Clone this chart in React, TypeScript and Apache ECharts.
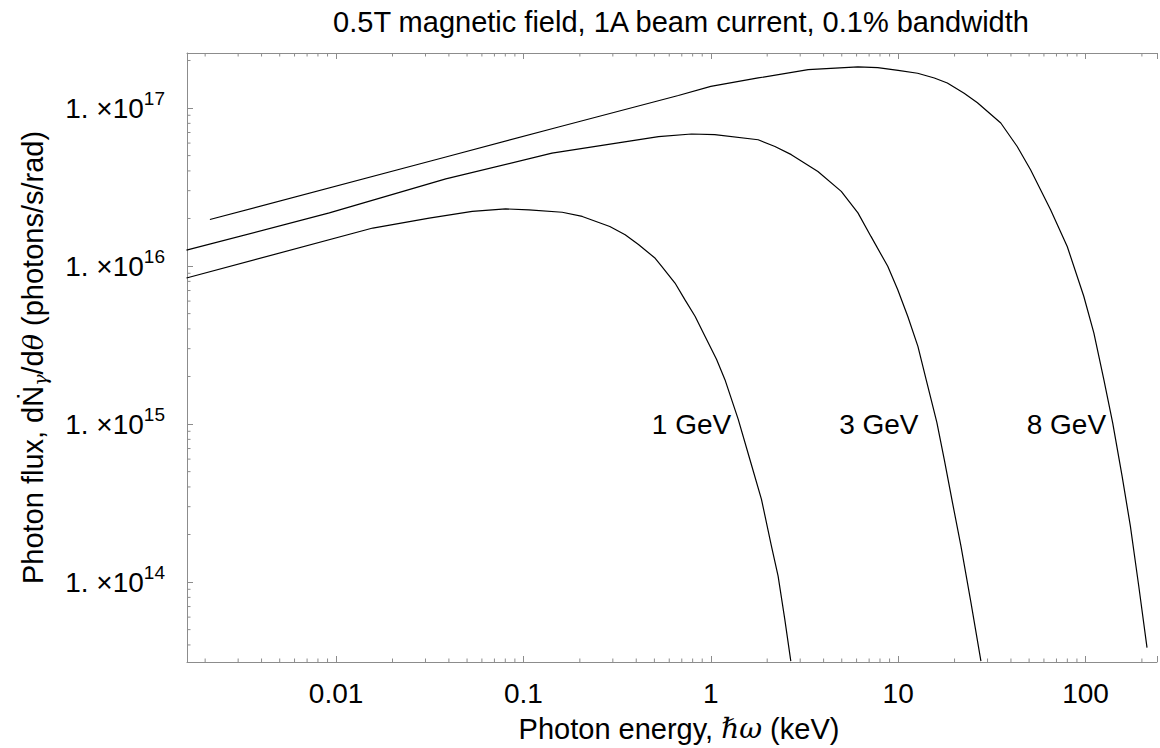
import React, { useEffect, useRef } from "react";
import * as echarts from "echarts";

const FONT = '"Liberation Sans", Arial, sans-serif';
const MATH_FONT = '"DejaVu Serif", serif';

const chartTitle = "0.5T magnetic field, 1A beam current, 0.1% bandwidth";
const seriesNames = ["1 GeV", "3 GeV", "8 GeV"];

// Photon energy (keV) and photon flux (photons/s/rad)
const energy1GeV = [0.00159, 0.0157, 0.0314, 0.0533, 0.0803, 0.107, 0.161, 0.206, 0.289, 0.349, 0.411, 0.505, 0.547, 0.644, 0.727, 0.824, 0.931, 1.074, 1.19, 1.401, 1.617, 1.864, 2.107, 2.287, 2.483, 2.673];
const flux1GeV = [8.4e15, 1.74e16, 2.01e16, 2.22e16, 2.3e16, 2.27e16, 2.19e16, 2.06e16, 1.78e16, 1.58e16, 1.37e16, 1.12e16, 9.96e15, 7.81e15, 6.13e15, 4.81e15, 3.6e15, 2.56e15, 1.91e15, 1.07e15, 5.97e14, 3.34e14, 1.69e14, 1.09e14, 5.81e13, 3.16e13];

const energy3GeV = [0.00159, 0.0092, 0.0385, 0.142, 0.526, 0.789, 1.05, 1.79, 2.2, 2.69, 3.73, 4.97, 6.1, 7.16, 8.8, 9.94, 11.25, 12.75, 14.11, 16.1, 17.62, 19.5, 21.64, 24.47, 27.66];
const flux3GeV = [1.26e16, 2.17e16, 3.56e16, 5.19e16, 6.6e16, 6.85e16, 6.78e16, 6.3e16, 5.71e16, 5.07e16, 3.97e16, 2.97e16, 2.17e16, 1.54e16, 9.96e15, 7.1e15, 4.81e15, 3.1e15, 1.91e15, 1.02e15, 5.97e14, 3.18e14, 1.69e14, 7.41e13, 3.16e13];

const energy8GeV = [0.00212, 0.0385, 0.154, 0.671, 1, 1.79, 3.31, 6.1, 7.78, 10, 12.7, 15.6, 18.3, 22.5, 26.5, 35.3, 43.2, 50.9, 65.1, 79.9, 97.9, 110.8, 125.3, 139.6, 156.8, 173.6, 192.4, 213];
const flux8GeV = [1.97e16, 4.9e16, 7.59e16, 1.2e17, 1.37e17, 1.55e17, 1.75e17, 1.82e17, 1.8e17, 1.73e17, 1.66e17, 1.55e17, 1.44e17, 1.24e17, 1.08e17, 8.04e16, 5.71e16, 4.07e16, 2.27e16, 1.33e16, 6.44e15, 3.78e15, 1.91e15, 1.02e15, 4.68e14, 2.26e14, 9.44e13, 3.85e13];

// Curve label anchors (right end of each label), in data units
const labelEnergy = [1.285, 12.85, 128.8];
const labelFlux = [9.9e14, 9.9e14, 9.9e14];

// Axis ranges and tick labels
const xMin = 0.0016;
const xMax = 240.8;
const yMin = 3.12e13;
const yMax = 2.23e17;
const xTickValues = [0.01, 0.1, 1, 10, 100];
const xTickLabels = ["0.01", "0.1", "1", "10", "100"];
const yTickExponents = [14, 15, 16, 17];

export default function App() {
  const ref = useRef<HTMLDivElement>(null);

  useEffect(() => {
    const chart = echarts.init(ref.current!, null, { renderer: "svg" });
    const axisGray = "#8c8c8c";

    const minorData: number[][] = [];
    for (let e = -4; e <= 3; e++) {
      for (let m = 2; m <= 9; m++) {
        const v = m * Math.pow(10, e);
        if (v > xMin && v < xMax) {
          minorData.push([v, yMin, 0]);
          minorData.push([v, yMax, 1]);
        }
      }
    }
    for (let e = 12; e <= 18; e++) {
      for (let m = 2; m <= 9; m++) {
        const v = m * Math.pow(10, e);
        if (v > yMin && v < yMax) minorData.push([xMin, v, 2]);
      }
    }

    const xs = [energy1GeV, energy3GeV, energy8GeV];
    const ys = [flux1GeV, flux3GeV, flux8GeV];

    const lineSeries = seriesNames.map((name, i) => ({
      name,
      type: "line",
      showSymbol: false,
      symbol: "none",
      smooth: false,
      silent: true,
      lineStyle: { color: "#000", width: 1.2 },
      data: xs[i].map((x, j) => [x, ys[i][j]]),
      markPoint: {
        symbol: "circle",
        symbolSize: 0,
        silent: true,
        label: {
          show: true,
          position: "left",
          distance: 0,
          formatter: name,
          color: "#000",
          fontSize: 28,
          fontFamily: FONT,
        },
        data: [{ coord: [labelEnergy[i], labelFlux[i]] }],
      },
    }));

    const xLabelFormatter = (v: number) => {
      for (let k = 0; k < xTickValues.length; k++) {
        if (Math.abs(Math.log10(v) - Math.log10(xTickValues[k])) < 1e-6) return xTickLabels[k];
      }
      return "";
    };
    const yLabelFormatter = (v: number) => {
      const l = Math.log10(v);
      for (const e of yTickExponents) {
        if (Math.abs(l - e) < 1e-6) return `{m|1. ×10}{s|${e}}`;
      }
      return "";
    };

    chart.setOption({
      animation: false,
      backgroundColor: "#fff",
      graphic: [
        {
          type: "text",
          x: 681,
          y: 22,
          style: {
            text: chartTitle,
            fill: "#000",
            fontSize: 29,
            fontFamily: FONT,
            textAlign: "center",
            textVerticalAlign: "middle",
            align: "center",
            verticalAlign: "middle",
          },
        },
      ],
      grid: { left: 187, right: 0, top: 53, bottom: 85, containLabel: false },
      xAxis: [
        {
          type: "log",
          position: "bottom",
          min: xMin,
          max: xMax,
          name: "{a|Photon energy, }{i|ℏω}{a| (keV)}",
          nameLocation: "middle",
          nameGap: 52,
          nameTextStyle: {
            padding: [0, 0, 0, 14],
            rich: {
              a: { fontSize: 29, fontFamily: FONT, color: "#000" },
              i: { fontSize: 28, fontFamily: MATH_FONT, fontStyle: "italic", color: "#000" },
            },
          },
          axisLine: { show: true, lineStyle: { color: axisGray, width: 1 } },
          axisTick: { show: true, inside: true, length: 6, lineStyle: { color: axisGray } },
          axisLabel: {
            show: true,
            margin: 17,
            color: "#000",
            fontSize: 28,
            fontFamily: FONT,
            formatter: xLabelFormatter,
          },
          splitLine: { show: false },
        },
        {
          type: "log",
          position: "top",
          min: xMin,
          max: xMax,
          axisLine: { show: true, lineStyle: { color: axisGray, width: 1 } },
          axisTick: { show: true, inside: true, length: 6, lineStyle: { color: axisGray } },
          axisLabel: { show: false },
          splitLine: { show: false },
        },
      ],
      yAxis: [
        {
          type: "log",
          position: "left",
          min: yMin,
          max: yMax,
          name: "{a|Photon flux, dṄ}{g|γ}{a|/d}{t|θ}{a| (photons/s/rad)}",
          nameLocation: "middle",
          nameGap: 138,
          nameTextStyle: {
            rich: {
              a: { fontSize: 29, fontFamily: FONT, color: "#000", lineHeight: 32 },
              g: { fontSize: 19, fontFamily: MATH_FONT, fontStyle: "italic", color: "#000", lineHeight: 15, verticalAlign: "bottom" },
              t: { fontSize: 27, fontFamily: MATH_FONT, fontStyle: "italic", color: "#000", lineHeight: 32 },
            },
          },
          axisLine: { show: true, lineStyle: { color: axisGray, width: 1 } },
          axisTick: { show: true, inside: true, length: 6, lineStyle: { color: axisGray } },
          axisLabel: {
            show: true,
            margin: 22,
            formatter: yLabelFormatter,
            rich: {
              m: { fontSize: 28, fontFamily: FONT, color: "#000", lineHeight: 38 },
              s: { fontSize: 19, fontFamily: FONT, color: "#000", lineHeight: 19, verticalAlign: "top" },
            },
          },
          splitLine: { show: false },
        },
      ],
      series: [
        ...lineSeries,
        {
          type: "custom",
          silent: true,
          clip: false,
          xAxisIndex: 0,
          yAxisIndex: 0,
          encode: { x: 0, y: 1 },
          data: minorData,
          renderItem: (_params: any, api: any) => {
            const kind = api.value(2);
            const p = api.coord([api.value(0), api.value(1)]);
            let x2 = p[0];
            let y2 = p[1];
            if (kind === 0) y2 -= 3.5;
            else if (kind === 1) y2 += 3.5;
            else x2 += 3.5;
            return {
              type: "line",
              shape: { x1: p[0], y1: p[1], x2, y2 },
              style: { stroke: axisGray, lineWidth: 1 },
            };
          },
        },
      ],
    });

    return () => chart.dispose();
  }, []);

  return (
    <div
      ref={ref}
      style={{ position: "absolute", left: 0, top: 0, width: 1160, height: 748 }}
    />
  );
}
